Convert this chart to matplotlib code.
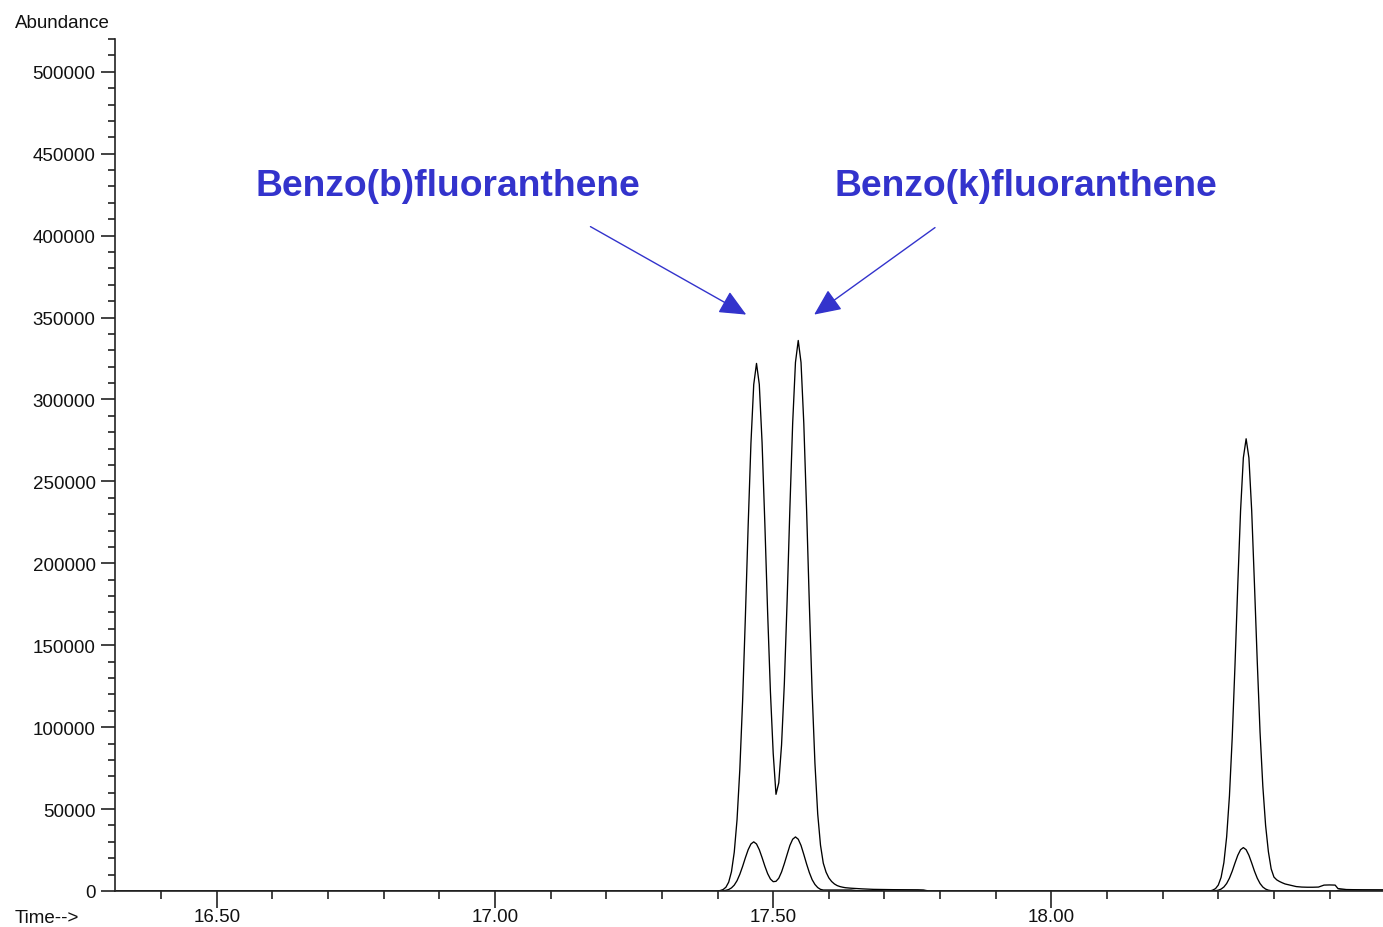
import matplotlib
matplotlib.use('Agg')
import matplotlib.pyplot as plt
from matplotlib.ticker import MultipleLocator, FixedLocator

# total ion trace (large)
t_tic = [16.32, 17.400, 17.405, 17.410, 17.415, 17.420, 17.425, 17.430, 17.435, 17.440, 17.445,
         17.450, 17.455, 17.460, 17.465, 17.470, 17.475, 17.480, 17.485, 17.490, 17.495,
         17.500, 17.505, 17.510, 17.515, 17.520, 17.525, 17.530, 17.535, 17.540, 17.545,
         17.550, 17.555, 17.560, 17.565, 17.570, 17.575, 17.580, 17.585, 17.590, 17.595,
         17.600, 17.605, 17.610, 17.615, 17.620, 17.625, 17.630, 17.640, 17.650, 17.660,
         17.680, 17.700, 17.720, 17.740, 17.760, 17.770, 17.780,
         18.285, 18.290, 18.295, 18.300, 18.305, 18.310, 18.315, 18.320, 18.325, 18.330,
         18.335, 18.340, 18.345, 18.350, 18.355, 18.360, 18.365, 18.370, 18.375, 18.380,
         18.385, 18.390, 18.395, 18.400, 18.405, 18.410, 18.415, 18.420, 18.430, 18.440,
         18.450, 18.460, 18.470, 18.480, 18.490, 18.500, 18.510, 18.515, 18.530, 18.560, 18.596]
a_tic = [0, 0, 300, 900, 2300, 5400, 11800, 23700, 43500, 74100, 115900,
         167400, 223100, 273400, 309100, 322000, 309200, 273700, 224000, 169800, 121600,
         84000, 59000, 66000, 89100, 126400, 177000, 233700, 285600, 322600, 336000,
         322600, 285300, 232800, 174700, 121000, 78000, 47000, 28000, 17000, 11500,
         8000, 5800, 4300, 3300, 2700, 2300, 2000, 1700, 1500, 1300,
         1000, 900, 800, 700, 600, 300, 0,
         0, 550, 1460, 3640, 8300, 17300, 33100, 58000, 93600, 138000,
         186900, 232100, 264400, 276000, 264400, 232100, 186900, 140000, 97000, 64000,
         40000, 24000, 13500, 8500, 6800, 5800, 5000, 4300, 3500, 2700,
         2400, 2300, 2300, 2400, 3600, 3700, 3600, 1500, 900, 700, 600]

# extracted ion trace (small)
t_ion = [16.32, 17.405, 17.410, 17.415, 17.420, 17.425, 17.430, 17.435, 17.440, 17.445,
         17.450, 17.455, 17.460, 17.465, 17.470, 17.475, 17.480, 17.485, 17.490, 17.495,
         17.500, 17.505, 17.510, 17.515, 17.520, 17.525, 17.530, 17.535, 17.540, 17.545,
         17.550, 17.555, 17.560, 17.565, 17.570, 17.575, 17.580, 17.585, 17.590, 17.595,
         17.600, 17.640, 17.650, 17.690, 17.700, 17.770, 17.780,
         18.290, 18.295, 18.300, 18.305, 18.310, 18.315, 18.320, 18.325, 18.330, 18.335,
         18.340, 18.345, 18.350, 18.355, 18.360, 18.365, 18.370, 18.375, 18.380, 18.385,
         18.390, 18.395, 18.400, 18.510, 18.520, 18.596]
a_ion = [0, 0, 160, 400, 900, 1900, 3600, 6300, 10200, 15000,
         20300, 25200, 28700, 30000, 28700, 25200, 20400, 15200, 10600, 7300,
         5700, 5900, 7800, 11600, 16700, 22300, 27800, 31600, 33000, 31600,
         27800, 22300, 16500, 11200, 6900, 4000, 2100, 1000, 600, 600,
         600, 600, 200, 200, 600, 600, 0,
         0, 200, 500, 1170, 2430, 4580, 7820, 12100, 17100, 21800,
         25200, 26500, 25200, 21800, 17100, 12100, 7820, 4580, 2430, 1170,
         500, 200, 0, 0, 600, 600]

labels = ['Benzo(b)fluoranthene', 'Benzo(k)fluoranthene']
label_xy = [(16.570, 430300), (17.611, 430300)]
arrow_tail = [(17.1715, 405500), (17.7908, 404900)]
arrow_tip = [(17.4515, 351800), (17.5736, 351800)]

plt.rcParams['font.family'] = ['Liberation Sans', 'DejaVu Sans']

fig = plt.figure(figsize=(13.83, 9.28), dpi=100)
ax = fig.add_axes([115/1383, 36/928, 1 - 115/1383, (892 - 40)/928])

ax.plot(t_tic, a_tic, color='black', lw=0.95)
ax.plot(t_ion, a_ion, color='black', lw=0.95)

ax.set_xlim(16.317, 18.596)
ax.set_ylim(0, 520000)

for s in ['top', 'right']:
    ax.spines[s].set_visible(False)
for s in ['left', 'bottom']:
    ax.spines[s].set_color('#222222')
    ax.spines[s].set_linewidth(1.2)

ax.xaxis.set_major_locator(FixedLocator([16.5, 17.0, 17.5, 18.0]))
ax.xaxis.set_minor_locator(MultipleLocator(0.1))
ax.yaxis.set_major_locator(MultipleLocator(50000))
ax.yaxis.set_minor_locator(MultipleLocator(10000))
ax.xaxis.set_major_formatter(lambda v, p: '%.2f' % v)
ax.yaxis.set_major_formatter(lambda v, p: '%d' % v)

ax.tick_params(axis='both', which='major', length=10, width=1.2, color='#222222',
               labelsize=13.5, labelcolor='#111111')
ax.tick_params(axis='both', which='minor', length=5, width=1.2, color='#222222')
ax.tick_params(axis='x', which='major', length=12, pad=0.5)
ax.tick_params(axis='x', which='minor', length=6)
ax.tick_params(axis='y', which='major', pad=4)

fig.text(15/1383, 1 - 23/928, 'Abundance', ha='left', va='center', fontsize=13.5, color='#111111')
fig.text(15/1383, 1 - 919/928, 'Time-->', ha='left', va='center', fontsize=13.5, color='#111111')

blue = '#3333CC'
for lab, xy in zip(labels, label_xy):
    ax.text(xy[0], xy[1], lab, ha='left', va='center', fontsize=26.8,
            fontweight='bold', color=blue)
for tail, tip in zip(arrow_tail, arrow_tip):
    ax.annotate('', xy=tip, xytext=tail,
                arrowprops=dict(arrowstyle='-|>,head_length=1.1,head_width=0.5',
                                mutation_scale=15, color=blue, lw=1.0,
                                shrinkA=0, shrinkB=0))

fig.savefig('out.png', dpi=100)
